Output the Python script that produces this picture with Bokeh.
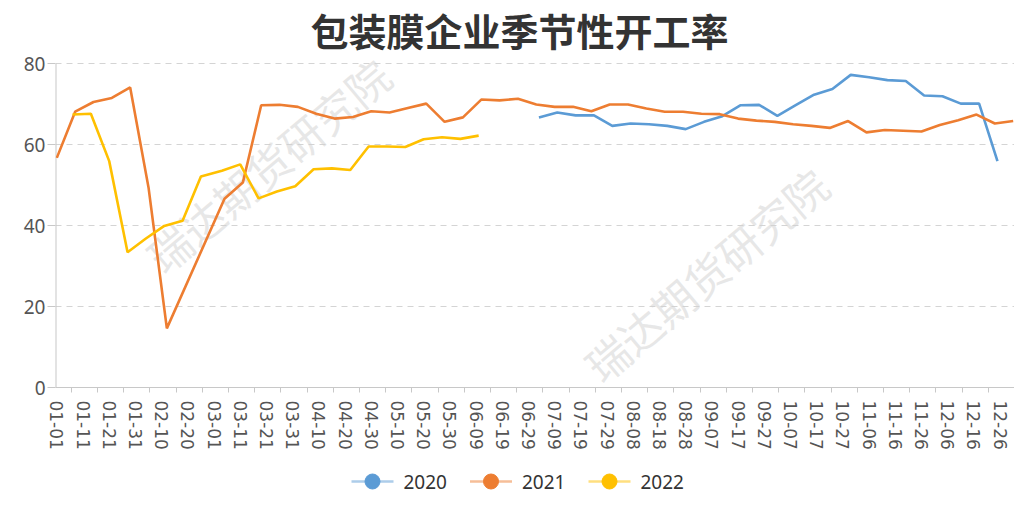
import pandas as pd
from bokeh.plotting import figure
from bokeh.layouts import column
from bokeh.models import Range1d, FixedTicker, Label
from bokeh.core.properties import value
from bokeh.embed import file_html
from bokeh.resources import INLINE

title_text = "包装膜企业季节性开工率"
watermark = "瑞达期货研究院"

# category axis: every day of a (leap) year, labelled every 10th day
categories = [d.strftime("%m-%d") for d in pd.date_range("2020-01-01", "2020-12-31")]
label_step = 10

series_names = ["2020", "2021", "2022"]
series_colors = ["#5B9BD5", "#ED7D31", "#FFC000"]

dates_2020 = ["07-03", "07-10", "07-17", "07-24", "07-31", "08-07", "08-14", "08-21", "08-28",
              "09-04", "09-11", "09-18", "09-25", "10-02", "10-09", "10-16", "10-23", "10-30",
              "11-06", "11-13", "11-20", "11-27", "12-04", "12-11", "12-18", "12-25"]
values_2020 = [66.7, 67.9, 67.2, 67.2, 64.6, 65.2, 65.0, 64.6, 63.8,
               65.6, 67.0, 69.7, 69.8, 67.1, 69.7, 72.3, 73.7, 77.2,
               76.6, 75.9, 75.7, 72.1, 71.9, 70.1, 70.1, 55.9]

dates_2021 = ["01-01", "01-08", "01-15", "01-22", "01-29", "02-05", "02-12", "03-05", "03-12",
              "03-19", "03-26", "04-02", "04-09", "04-16", "04-23", "04-30", "05-07", "05-14",
              "05-21", "05-28", "06-04", "06-11", "06-18", "06-25", "07-02", "07-09", "07-16",
              "07-23", "07-30", "08-06", "08-13", "08-20", "08-27", "09-03", "09-10", "09-17",
              "09-24", "10-01", "10-08", "10-15", "10-22", "10-29", "11-05", "11-12", "11-19",
              "11-26", "12-03", "12-10", "12-17", "12-24", "12-31"]
values_2021 = [56.7, 68.1, 70.5, 71.5, 74.1, 49.4, 14.6, 46.6, 50.6,
               69.7, 69.8, 69.3, 67.6, 66.4, 66.8, 68.2, 67.9, 69.0,
               70.1, 65.6, 66.7, 71.1, 70.9, 71.3, 69.9, 69.3, 69.3,
               68.2, 69.9, 69.9, 68.9, 68.1, 68.1, 67.6, 67.5, 66.4,
               65.9, 65.6, 65.0, 64.6, 64.1, 65.8, 63.0, 63.6, 63.4,
               63.2, 64.8, 66.0, 67.4, 65.2, 65.8]

dates_2022 = ["01-07", "01-14", "01-21", "01-28", "02-04", "02-11", "02-18", "02-25", "03-04",
              "03-11", "03-18", "03-25", "04-01", "04-08", "04-15", "04-22", "04-29", "05-06",
              "05-13", "05-20", "05-27", "06-03", "06-10"]
values_2022 = [67.4, 67.6, 55.9, 33.4, 36.8, 39.9, 41.2, 52.1, 53.5,
               55.1, 46.7, 48.4, 49.7, 53.9, 54.1, 53.7, 59.5, 59.5,
               59.4, 61.3, 61.8, 61.4, 62.2]

y_ticks = [0, 20, 40, 60, 80]
y_max = 80

idx = {c: i for i, c in enumerate(categories)}
all_dates = [dates_2020, dates_2021, dates_2022]
all_values = [values_2020, values_2021, values_2022]

W = 1014
LEFT = 55
FRAME_H = 393          # frame reaches the top of the page; value 80 sits 64px down
BOTTOM = 59
y_top = y_max * FRAME_H / (FRAME_H - 64)
n = len(categories)
px_per_cat = (W - LEFT) / n

# ---- main chart (title lives in the headroom above 80) ----
p = figure(width=W, height=FRAME_H + BOTTOM, output_backend="svg", toolbar_location=None,
           x_range=Range1d(-0.5, n - 0.5), y_range=Range1d(0, y_top),
           min_border_left=LEFT, min_border_right=0, min_border_top=0, min_border_bottom=BOTTOM)
p.outline_line_color = None
p.background_fill_color = "white"
p.border_fill_color = "white"

for wx, wy in [(80.5, 55.0), (247.6, 28.0)]:
    p.add_layout(Label(x=wx, y=wy, text=watermark, angle=0.70, angle_units="rad",
                       text_align="center", text_baseline="middle",
                       text_font="Noto Sans CJK SC", text_font_size="43px",
                       text_color="#d0d0d0", text_alpha=0.5, level="underlay"))

# title
p.text(x=[(519 - LEFT) / px_per_cat - 0.5], y=[y_top * (FRAME_H - 29) / FRAME_H],
       text=[title_text], text_align="center", text_baseline="middle",
       text_font=value("Noto Sans CJK SC"), text_font_style="bold",
       text_font_size="38px", text_color="#333333")

# y axis line only from 0 to 80
p.segment(x0=[-0.5], y0=[0], x1=[-0.5], y1=[y_max], line_color="#c8c8c8", line_width=2)

for dates, vals, col in zip(all_dates, all_values, series_colors):
    p.line([idx[d] for d in dates], vals, line_color=col, line_width=2.6)

xa = p.xaxis[0]
label_idx = list(range(0, n, label_step))
xa.ticker = FixedTicker(ticks=label_idx, minor_ticks=[i + 5.5 for i in label_idx])
xa.major_label_overrides = {i: categories[i] for i in label_idx}
xa.major_label_orientation = "vertical"
xa.major_tick_out = 0
xa.major_tick_in = 0
xa.minor_tick_out = 5
xa.minor_tick_in = 0
xa.minor_tick_line_color = "#c8c8c8"
xa.axis_line_color = "#c8c8c8"
xa.major_label_standoff = 8
xa.major_label_text_font = "DejaVu Sans"
xa.major_label_text_font_size = "17px"
xa.major_label_text_color = "#555555"

ya = p.yaxis[0]
ya.ticker = FixedTicker(ticks=y_ticks)
ya.minor_tick_out = 0
ya.minor_tick_in = 0
ya.major_tick_out = 8
ya.major_tick_in = 0
ya.major_tick_line_color = "#c8c8c8"
ya.axis_line_color = None
ya.major_label_standoff = 2
ya.major_label_text_font = "Noto Sans"
ya.major_label_text_font_size = "19px"
ya.major_label_text_color = "#555555"

p.xgrid.visible = False
p.ygrid.grid_line_color = "#d4d4d4"
p.ygrid.grid_line_dash = "6 5"
p.ygrid.grid_line_width = 1

# ---- legend strip ----
LH = 42
lfig = figure(width=W, height=LH, output_backend="svg", toolbar_location=None,
              x_range=Range1d(LEFT, W), y_range=Range1d(0, LH),
              x_axis_type=None, y_axis_type=None,
              min_border_left=LEFT, min_border_right=0, min_border_top=0, min_border_bottom=0)
lfig.outline_line_color = None
lfig.grid.visible = False
lfig.background_fill_color = "white"
lfig.border_fill_color = "white"
ly = LH - 29
x0, pitch, gw = 351, 118.5, 42
for k, (name, col) in enumerate(zip(series_names, series_colors)):
    xs = x0 + k * pitch
    lfig.line([xs, xs + gw], [ly, ly], line_color=col, line_alpha=0.5, line_width=2.5)
    lfig.scatter([xs + gw / 2], [ly], marker="circle", size=15, fill_color=col, line_color=col)
    lfig.text(x=[xs + gw + 10], y=[ly], text=[name], text_align="left", text_baseline="middle",
              text_font=value("Noto Sans"), text_font_size="19px", text_color="#333333")

layout = column(p, lfig, spacing=0)
open("out.html", "w").write(file_html(layout, INLINE))
